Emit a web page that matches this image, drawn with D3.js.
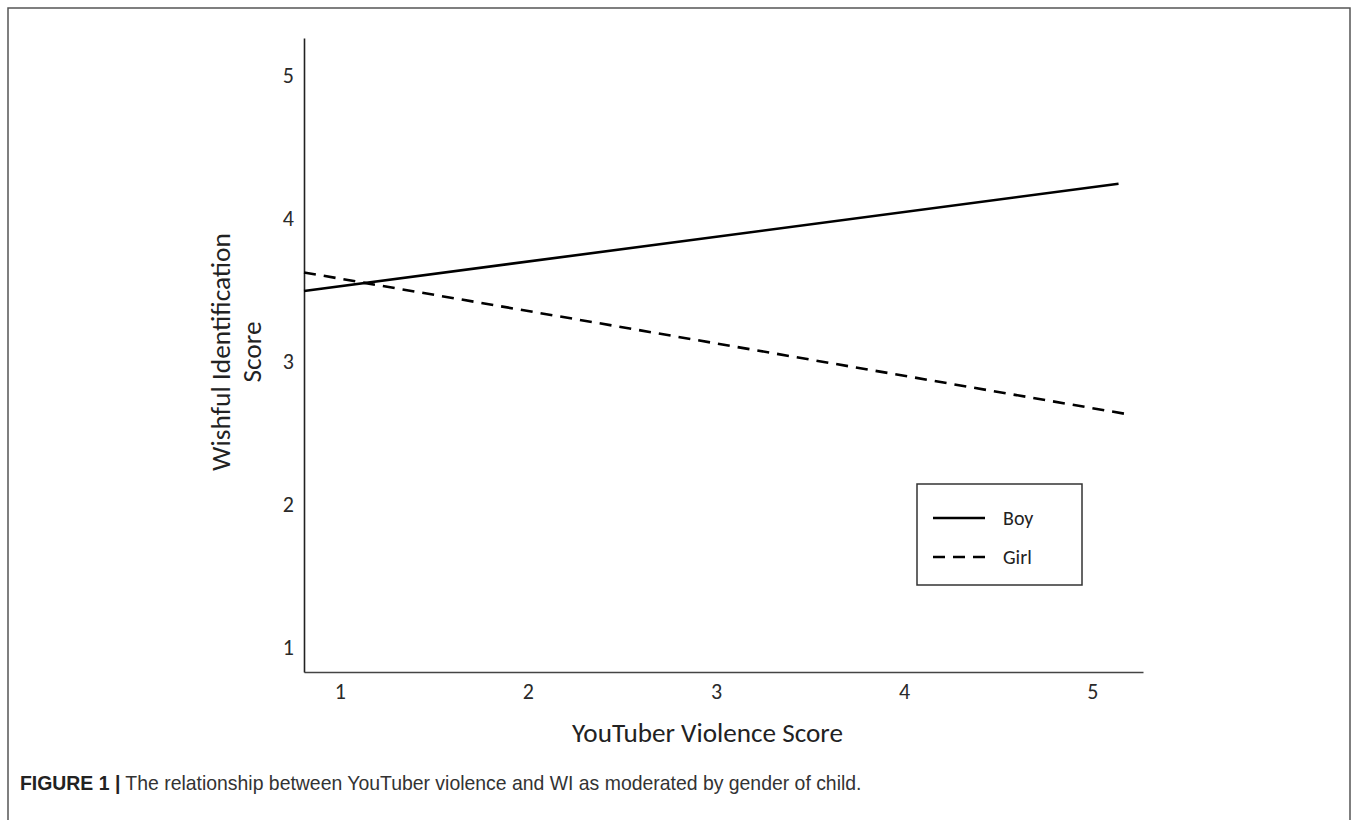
<!DOCTYPE html>
<html>
<head>
<meta charset="utf-8">
<script src="https://cdn.jsdelivr.net/npm/d3@7/dist/d3.min.js"></script>
<style>
  html, body { margin: 0; padding: 0; background: #fff; }
  svg { display: block; }
</style>
</head>
<body>
<svg id="chart" width="1357" height="820"></svg>
<script>
// ---- data ----
const xTicks = [1, 2, 3, 4, 5];
const yTicks = [1, 2, 3, 4, 5];
const seriesNames = ["Boy", "Girl"];
const boyX = [0.81, 5.14];
const boyY = [3.49, 4.24];
const girlX = [0.81, 5.18];
const girlY = [3.62, 2.63];
const xTitle = "YouTuber Violence Score";
const yTitleLines = ["Wishful Identification", "Score"];
const captionBold = "FIGURE 1 |";
const captionText = " The relationship between YouTuber violence and WI as moderated by gender of child.";

const FONT = "Carlito, Lato, 'Open Sans', sans-serif";
const svg = d3.select("#chart");

// outer frame (open at the bottom)
svg.append("path")
  .attr("d", "M8,820 V8 H1350 V820")
  .attr("fill", "none").attr("stroke", "#555").attr("stroke-width", 1.5);

const x = d3.scaleLinear().domain([0.81, 5.27]).range([304, 1143]);
const y = d3.scaleLinear().domain([0.825, 5.26]).range([672, 38]);

// axes
const gx = svg.append("g").attr("transform", "translate(0,672)")
  .call(d3.axisBottom(x).tickValues(xTicks).tickFormat(d3.format("d")).tickSize(0).tickSizeOuter(0).tickPadding(11));
gx.attr("font-size", null).attr("font-family", null);
gx.select(".domain").attr("stroke", "#444").attr("stroke-width", 1.6);
gx.selectAll("text").style("font-family", FONT).style("font-size", "22px").attr("fill", "#2a2a2a");

const gy = svg.append("g").attr("transform", "translate(304,0)")
  .call(d3.axisLeft(y).tickValues(yTicks).tickFormat(d3.format("d")).tickSize(0).tickSizeOuter(0).tickPadding(10));
gy.attr("font-size", null).attr("font-family", null);
gy.select(".domain").attr("stroke", "#222").attr("stroke-width", 1.6);
gy.selectAll("text").style("font-family", FONT).style("font-size", "22px").attr("fill", "#2a2a2a");

// lines
const line = d3.line().x(d => x(d[0])).y(d => y(d[1]));
const boy = boyX.map((v, i) => [v, boyY[i]]);
const girl = girlX.map((v, i) => [v, girlY[i]]);

svg.append("path").datum(boy).attr("d", line)
  .attr("fill", "none").attr("stroke", "#000").attr("stroke-width", 2.6);
svg.append("path").datum(girl).attr("d", line)
  .attr("fill", "none").attr("stroke", "#000").attr("stroke-width", 2.6)
  .attr("stroke-dasharray", "12,8");

function fitWidth(sel, target) {
  const w = sel.node().getComputedTextLength();
  const fs = parseFloat(sel.attr("font-size"));
  sel.attr("font-size", fs * target / w);
}

// x title
const xt = svg.append("text").attr("x", 707.5).attr("y", 742)
  .attr("text-anchor", "middle").attr("font-family", FONT).attr("font-size", 24)
  .attr("fill", "#222").text(xTitle);
fitWidth(xt, 271);

// y title
const yt1 = svg.append("text").attr("transform", "translate(230,352) rotate(-90)")
  .attr("text-anchor", "middle").attr("font-family", FONT).attr("font-size", 24)
  .attr("fill", "#222").text(yTitleLines[0]);
fitWidth(yt1, 238);
const yt2 = svg.append("text").attr("transform", "translate(261,352) rotate(-90)")
  .attr("text-anchor", "middle").attr("font-family", FONT).attr("font-size", yt1.attr("font-size"))
  .attr("fill", "#222").text(yTitleLines[1]);

// legend
const lg = svg.append("g");
lg.append("rect").attr("x", 917).attr("y", 484).attr("width", 165).attr("height", 101)
  .attr("fill", "#fff").attr("stroke", "#333").attr("stroke-width", 1.5);
const dashes = [null, "12,8"];
seriesNames.forEach((name, i) => {
  const ly = 518 + i * 39;
  lg.append("line").attr("x1", 933).attr("x2", 985).attr("y1", ly).attr("y2", ly)
    .attr("stroke", "#000").attr("stroke-width", 2.6)
    .attr("stroke-dasharray", dashes[i]);
  lg.append("text").attr("x", 1003).attr("y", ly + 7)
    .attr("font-family", FONT).attr("font-size", 20).attr("fill", "#222").text(name);
});

// caption
const cap = svg.append("text").attr("x", 20).attr("y", 790)
  .attr("font-family", "'Liberation Sans', Arial, sans-serif").attr("font-size", 15).attr("fill", "#333");
cap.append("tspan").attr("font-weight", "bold").attr("fill", "#222").text(captionBold);
cap.append("tspan").text(captionText);
fitWidth(cap, 842);
</script>
</body>
</html>
